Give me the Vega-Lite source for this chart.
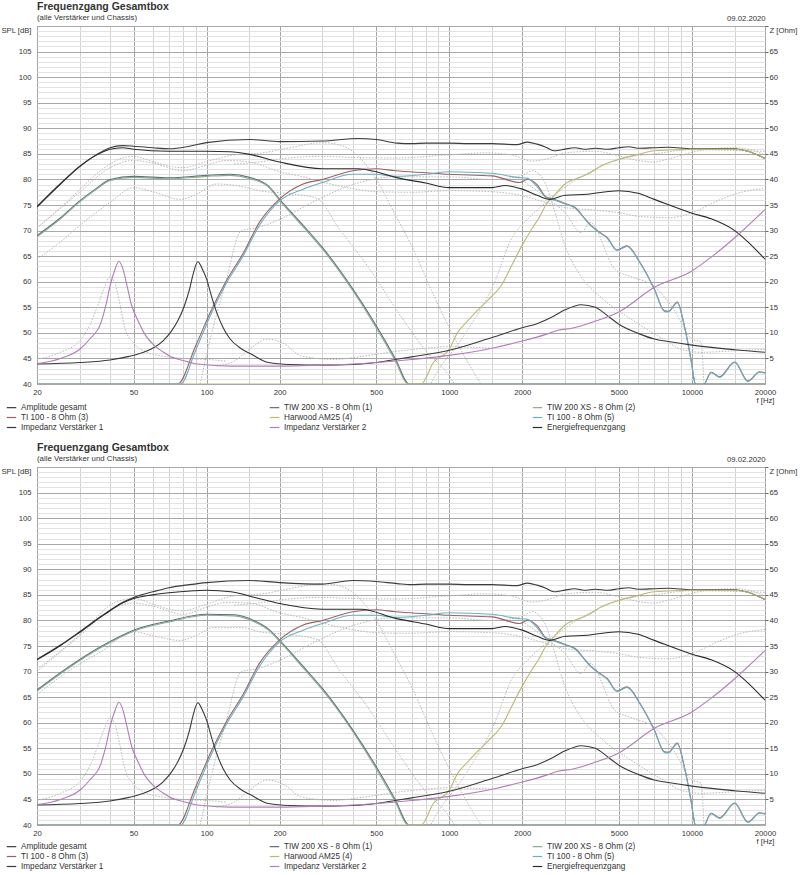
{
"$schema": "https://vega.github.io/schema/vega-lite/v6.json",
"padding": {"left": 0, "top": 1, "right": 0, "bottom": 0},
"spacing": 10,
"config": {
  "font": "Liberation Sans",
  "view": {"stroke": "#9a9a9a"},
  "axis": {"labelFont": "Liberation Sans", "labelFontSize": 7.7, "labelColor": "#333", "titleFont": "Liberation Sans", "titleFontSize": 7.7, "titleFontWeight": "normal", "titleColor": "#333"},
  "legend": {"labelFont": "Liberation Sans"}
},
"datasets": {
"spl": [
{"s":"Amplitude gesamt","p":"A","f":20,"v":74.7},{"s":"Amplitude gesamt","p":"A","f":25,"v":79.2},{"s":"Amplitude gesamt","p":"A","f":30,"v":82.6},{"s":"Amplitude gesamt","p":"A","f":35,"v":84.8},{"s":"Amplitude gesamt","p":"A","f":40,"v":86.2},{"s":"Amplitude gesamt","p":"A","f":45,"v":86.6},{"s":"Amplitude gesamt","p":"A","f":50,"v":86.5},{"s":"Amplitude gesamt","p":"A","f":60,"v":86.2},{"s":"Amplitude gesamt","p":"A","f":70,"v":86.0},{"s":"Amplitude gesamt","p":"A","f":85,"v":86.5},{"s":"Amplitude gesamt","p":"A","f":100,"v":87.2},{"s":"Amplitude gesamt","p":"A","f":150,"v":87.8},{"s":"Amplitude gesamt","p":"A","f":200,"v":87.4},{"s":"Amplitude gesamt","p":"A","f":300,"v":87.5},{"s":"Amplitude gesamt","p":"A","f":420,"v":88.0},{"s":"Amplitude gesamt","p":"A","f":500,"v":87.8},{"s":"Amplitude gesamt","p":"A","f":610,"v":87.1},
{"s":"Amplitude gesamt","p":"B","f":20,"v":72.4},{"s":"Amplitude gesamt","p":"B","f":25,"v":75.2},{"s":"Amplitude gesamt","p":"B","f":30,"v":77.8},{"s":"Amplitude gesamt","p":"B","f":37,"v":80.9},{"s":"Amplitude gesamt","p":"B","f":40,"v":82.0},{"s":"Amplitude gesamt","p":"B","f":45,"v":83.5},{"s":"Amplitude gesamt","p":"B","f":50,"v":84.5},{"s":"Amplitude gesamt","p":"B","f":60,"v":85.6},{"s":"Amplitude gesamt","p":"B","f":70,"v":86.4},{"s":"Amplitude gesamt","p":"B","f":85,"v":87.0},{"s":"Amplitude gesamt","p":"B","f":100,"v":87.4},{"s":"Amplitude gesamt","p":"B","f":150,"v":87.8},{"s":"Amplitude gesamt","p":"B","f":200,"v":87.4},{"s":"Amplitude gesamt","p":"B","f":300,"v":87.1},{"s":"Amplitude gesamt","p":"B","f":400,"v":87.8},{"s":"Amplitude gesamt","p":"B","f":500,"v":87.6},{"s":"Amplitude gesamt","p":"B","f":610,"v":87.2},
{"s":"Amplitude gesamt","p":"S","f":700,"v":87.0},{"s":"Amplitude gesamt","p":"S","f":800,"v":87.1},{"s":"Amplitude gesamt","p":"S","f":1000,"v":87.1},{"s":"Amplitude gesamt","p":"S","f":1200,"v":87.0},{"s":"Amplitude gesamt","p":"S","f":1500,"v":87.0},{"s":"Amplitude gesamt","p":"S","f":1900,"v":86.8},{"s":"Amplitude gesamt","p":"S","f":2100,"v":87.3},{"s":"Amplitude gesamt","p":"S","f":2300,"v":86.9},{"s":"Amplitude gesamt","p":"S","f":2500,"v":86.3},{"s":"Amplitude gesamt","p":"S","f":2700,"v":85.6},{"s":"Amplitude gesamt","p":"S","f":2900,"v":85.8},{"s":"Amplitude gesamt","p":"S","f":3300,"v":86.2},{"s":"Amplitude gesamt","p":"S","f":3600,"v":85.9},{"s":"Amplitude gesamt","p":"S","f":4000,"v":86.1},{"s":"Amplitude gesamt","p":"S","f":4500,"v":85.9},{"s":"Amplitude gesamt","p":"S","f":5000,"v":86.2},{"s":"Amplitude gesamt","p":"S","f":5500,"v":86.4},{"s":"Amplitude gesamt","p":"S","f":6000,"v":86.1},{"s":"Amplitude gesamt","p":"S","f":7000,"v":86.2},{"s":"Amplitude gesamt","p":"S","f":8000,"v":86.3},{"s":"Amplitude gesamt","p":"S","f":10000,"v":86.0},{"s":"Amplitude gesamt","p":"S","f":12000,"v":86.0},{"s":"Amplitude gesamt","p":"S","f":15000,"v":86.0},{"s":"Amplitude gesamt","p":"S","f":17000,"v":85.5},{"s":"Amplitude gesamt","p":"S","f":20000,"v":84.1},

{"s":"TIW 200 XS - 8 Ohm (1)","p":"A","f":20,"v":69.0},{"s":"TIW 200 XS - 8 Ohm (1)","p":"A","f":25,"v":72.5},{"s":"TIW 200 XS - 8 Ohm (1)","p":"A","f":30,"v":75.8},{"s":"TIW 200 XS - 8 Ohm (1)","p":"A","f":35,"v":78.2},{"s":"TIW 200 XS - 8 Ohm (1)","p":"A","f":40,"v":80.0},{"s":"TIW 200 XS - 8 Ohm (1)","p":"A","f":50,"v":80.6},{"s":"TIW 200 XS - 8 Ohm (1)","p":"A","f":70,"v":80.3},{"s":"TIW 200 XS - 8 Ohm (1)","p":"A","f":100,"v":80.8},{"s":"TIW 200 XS - 8 Ohm (1)","p":"A","f":125,"v":81.0},{"s":"TIW 200 XS - 8 Ohm (1)","p":"A","f":150,"v":80.4},{"s":"TIW 200 XS - 8 Ohm (1)","p":"A","f":180,"v":78.7},
{"s":"TIW 200 XS - 8 Ohm (1)","p":"B","f":20,"v":66.4},{"s":"TIW 200 XS - 8 Ohm (1)","p":"B","f":27,"v":70.9},{"s":"TIW 200 XS - 8 Ohm (1)","p":"B","f":37,"v":75.0},{"s":"TIW 200 XS - 8 Ohm (1)","p":"B","f":50,"v":78.1},{"s":"TIW 200 XS - 8 Ohm (1)","p":"B","f":70,"v":79.9},{"s":"TIW 200 XS - 8 Ohm (1)","p":"B","f":100,"v":81.2},{"s":"TIW 200 XS - 8 Ohm (1)","p":"B","f":130,"v":81.1},{"s":"TIW 200 XS - 8 Ohm (1)","p":"B","f":158,"v":79.9},{"s":"TIW 200 XS - 8 Ohm (1)","p":"B","f":180,"v":78.3},
{"s":"TIW 200 XS - 8 Ohm (1)","p":"S","f":200,"v":76.1},{"s":"TIW 200 XS - 8 Ohm (1)","p":"S","f":250,"v":71.0},{"s":"TIW 200 XS - 8 Ohm (1)","p":"S","f":300,"v":66.7},{"s":"TIW 200 XS - 8 Ohm (1)","p":"S","f":400,"v":58.6},{"s":"TIW 200 XS - 8 Ohm (1)","p":"S","f":500,"v":51.4},{"s":"TIW 200 XS - 8 Ohm (1)","p":"S","f":600,"v":44.9},{"s":"TIW 200 XS - 8 Ohm (1)","p":"S","f":683,"v":40},{"s":"TIW 200 XS - 8 Ohm (1)","p":"S","f":20000,"v":40},

{"s":"TIW 200 XS - 8 Ohm (2)","p":"A","f":20,"v":68.8},{"s":"TIW 200 XS - 8 Ohm (2)","p":"A","f":25,"v":72.3},{"s":"TIW 200 XS - 8 Ohm (2)","p":"A","f":30,"v":75.6},{"s":"TIW 200 XS - 8 Ohm (2)","p":"A","f":35,"v":78.0},{"s":"TIW 200 XS - 8 Ohm (2)","p":"A","f":40,"v":79.8},{"s":"TIW 200 XS - 8 Ohm (2)","p":"A","f":50,"v":80.4},{"s":"TIW 200 XS - 8 Ohm (2)","p":"A","f":70,"v":80.1},{"s":"TIW 200 XS - 8 Ohm (2)","p":"A","f":100,"v":80.6},{"s":"TIW 200 XS - 8 Ohm (2)","p":"A","f":125,"v":80.8},{"s":"TIW 200 XS - 8 Ohm (2)","p":"A","f":150,"v":80.2},{"s":"TIW 200 XS - 8 Ohm (2)","p":"A","f":180,"v":78.5},
{"s":"TIW 200 XS - 8 Ohm (2)","p":"B","f":20,"v":66.2},{"s":"TIW 200 XS - 8 Ohm (2)","p":"B","f":27,"v":70.7},{"s":"TIW 200 XS - 8 Ohm (2)","p":"B","f":37,"v":74.8},{"s":"TIW 200 XS - 8 Ohm (2)","p":"B","f":50,"v":77.9},{"s":"TIW 200 XS - 8 Ohm (2)","p":"B","f":70,"v":79.7},{"s":"TIW 200 XS - 8 Ohm (2)","p":"B","f":100,"v":81.0},{"s":"TIW 200 XS - 8 Ohm (2)","p":"B","f":130,"v":80.9},{"s":"TIW 200 XS - 8 Ohm (2)","p":"B","f":158,"v":79.7},{"s":"TIW 200 XS - 8 Ohm (2)","p":"B","f":180,"v":78.1},
{"s":"TIW 200 XS - 8 Ohm (2)","p":"S","f":200,"v":75.9},{"s":"TIW 200 XS - 8 Ohm (2)","p":"S","f":250,"v":70.7},{"s":"TIW 200 XS - 8 Ohm (2)","p":"S","f":300,"v":66.4},{"s":"TIW 200 XS - 8 Ohm (2)","p":"S","f":400,"v":58.3},{"s":"TIW 200 XS - 8 Ohm (2)","p":"S","f":500,"v":51.0},{"s":"TIW 200 XS - 8 Ohm (2)","p":"S","f":600,"v":44.5},{"s":"TIW 200 XS - 8 Ohm (2)","p":"S","f":676,"v":40},{"s":"TIW 200 XS - 8 Ohm (2)","p":"S","f":20000,"v":40},

{"s":"TI 100 - 8 Ohm (3)","p":"S","f":20,"v":40},{"s":"TI 100 - 8 Ohm (3)","p":"S","f":76,"v":40},{"s":"TI 100 - 8 Ohm (3)","p":"S","f":90,"v":47.4},{"s":"TI 100 - 8 Ohm (3)","p":"S","f":105,"v":54.6},{"s":"TI 100 - 8 Ohm (3)","p":"S","f":120,"v":60.0},{"s":"TI 100 - 8 Ohm (3)","p":"S","f":142,"v":65.7},{"s":"TI 100 - 8 Ohm (3)","p":"S","f":165,"v":71.6},{"s":"TI 100 - 8 Ohm (3)","p":"S","f":200,"v":76.2},{"s":"TI 100 - 8 Ohm (3)","p":"S","f":250,"v":79.1},{"s":"TI 100 - 8 Ohm (3)","p":"S","f":300,"v":80.0},{"s":"TI 100 - 8 Ohm (3)","p":"S","f":400,"v":81.7},{"s":"TI 100 - 8 Ohm (3)","p":"S","f":500,"v":82.1},{"s":"TI 100 - 8 Ohm (3)","p":"S","f":600,"v":81.7},{"s":"TI 100 - 8 Ohm (3)","p":"S","f":800,"v":81.3},{"s":"TI 100 - 8 Ohm (3)","p":"S","f":1000,"v":81.0},{"s":"TI 100 - 8 Ohm (3)","p":"S","f":1500,"v":80.7},{"s":"TI 100 - 8 Ohm (3)","p":"S","f":1950,"v":79.4},{"s":"TI 100 - 8 Ohm (3)","p":"S","f":2100,"v":80.0},{"s":"TI 100 - 8 Ohm (3)","p":"S","f":2300,"v":79.0},{"s":"TI 100 - 8 Ohm (3)","p":"S","f":2500,"v":76.6},{"s":"TI 100 - 8 Ohm (3)","p":"S","f":2700,"v":76.1},{"s":"TI 100 - 8 Ohm (3)","p":"S","f":3000,"v":75.3},{"s":"TI 100 - 8 Ohm (3)","p":"S","f":3300,"v":74.5},{"s":"TI 100 - 8 Ohm (3)","p":"S","f":3600,"v":72.5},{"s":"TI 100 - 8 Ohm (3)","p":"S","f":3800,"v":71.2},{"s":"TI 100 - 8 Ohm (3)","p":"S","f":4100,"v":69.9},{"s":"TI 100 - 8 Ohm (3)","p":"S","f":4500,"v":68.5},{"s":"TI 100 - 8 Ohm (3)","p":"S","f":4900,"v":66.2},{"s":"TI 100 - 8 Ohm (3)","p":"S","f":5400,"v":67.0},{"s":"TI 100 - 8 Ohm (3)","p":"S","f":6100,"v":63.8},{"s":"TI 100 - 8 Ohm (3)","p":"S","f":7000,"v":58.6},{"s":"TI 100 - 8 Ohm (3)","p":"S","f":7700,"v":54.3},{"s":"TI 100 - 8 Ohm (3)","p":"S","f":8000,"v":54.2},{"s":"TI 100 - 8 Ohm (3)","p":"S","f":8700,"v":56.0},{"s":"TI 100 - 8 Ohm (3)","p":"S","f":9300,"v":51.4},{"s":"TI 100 - 8 Ohm (3)","p":"S","f":9900,"v":44.9},{"s":"TI 100 - 8 Ohm (3)","p":"S","f":10300,"v":40},{"s":"TI 100 - 8 Ohm (3)","p":"S","f":10800,"v":38.3},{"s":"TI 100 - 8 Ohm (3)","p":"S","f":11300,"v":40},{"s":"TI 100 - 8 Ohm (3)","p":"S","f":12000,"v":42.3},{"s":"TI 100 - 8 Ohm (3)","p":"S","f":13000,"v":41.4},{"s":"TI 100 - 8 Ohm (3)","p":"S","f":15000,"v":44.3},{"s":"TI 100 - 8 Ohm (3)","p":"S","f":17000,"v":40.6},{"s":"TI 100 - 8 Ohm (3)","p":"S","f":19000,"v":42.4},{"s":"TI 100 - 8 Ohm (3)","p":"S","f":20000,"v":42.2},

{"s":"Harwood AM25 (4)","p":"S","f":20,"v":40},{"s":"Harwood AM25 (4)","p":"S","f":766,"v":40},{"s":"Harwood AM25 (4)","p":"S","f":860,"v":44.2},{"s":"Harwood AM25 (4)","p":"S","f":1000,"v":46.8},{"s":"Harwood AM25 (4)","p":"S","f":1080,"v":50.0},{"s":"Harwood AM25 (4)","p":"S","f":1200,"v":52.5},{"s":"Harwood AM25 (4)","p":"S","f":1300,"v":54.3},{"s":"Harwood AM25 (4)","p":"S","f":1450,"v":56.5},{"s":"Harwood AM25 (4)","p":"S","f":1650,"v":59.5},{"s":"Harwood AM25 (4)","p":"S","f":1800,"v":63.0},{"s":"Harwood AM25 (4)","p":"S","f":2000,"v":67.2},{"s":"Harwood AM25 (4)","p":"S","f":2200,"v":70.5},{"s":"Harwood AM25 (4)","p":"S","f":2350,"v":72.6},{"s":"Harwood AM25 (4)","p":"S","f":2500,"v":75.0},{"s":"Harwood AM25 (4)","p":"S","f":2700,"v":76.8},{"s":"Harwood AM25 (4)","p":"S","f":3000,"v":79.1},{"s":"Harwood AM25 (4)","p":"S","f":3500,"v":80.5},{"s":"Harwood AM25 (4)","p":"S","f":3700,"v":81.0},{"s":"Harwood AM25 (4)","p":"S","f":4300,"v":82.8},{"s":"Harwood AM25 (4)","p":"S","f":5000,"v":83.9},{"s":"Harwood AM25 (4)","p":"S","f":6000,"v":84.9},{"s":"Harwood AM25 (4)","p":"S","f":7000,"v":85.6},{"s":"Harwood AM25 (4)","p":"S","f":10000,"v":85.9},{"s":"Harwood AM25 (4)","p":"S","f":15000,"v":85.9},{"s":"Harwood AM25 (4)","p":"S","f":17000,"v":85.5},{"s":"Harwood AM25 (4)","p":"S","f":20000,"v":84.1},

{"s":"TI 100 - 8 Ohm (5)","p":"S","f":20,"v":40},{"s":"TI 100 - 8 Ohm (5)","p":"S","f":78,"v":40},{"s":"TI 100 - 8 Ohm (5)","p":"S","f":90,"v":46.5},{"s":"TI 100 - 8 Ohm (5)","p":"S","f":105,"v":54.0},{"s":"TI 100 - 8 Ohm (5)","p":"S","f":120,"v":59.5},{"s":"TI 100 - 8 Ohm (5)","p":"S","f":142,"v":65.2},{"s":"TI 100 - 8 Ohm (5)","p":"S","f":165,"v":71.0},{"s":"TI 100 - 8 Ohm (5)","p":"S","f":200,"v":75.8},{"s":"TI 100 - 8 Ohm (5)","p":"S","f":250,"v":78.1},{"s":"TI 100 - 8 Ohm (5)","p":"S","f":300,"v":79.4},{"s":"TI 100 - 8 Ohm (5)","p":"S","f":400,"v":81.0},{"s":"TI 100 - 8 Ohm (5)","p":"S","f":500,"v":81.0},{"s":"TI 100 - 8 Ohm (5)","p":"S","f":600,"v":80.6},{"s":"TI 100 - 8 Ohm (5)","p":"S","f":800,"v":81.0},{"s":"TI 100 - 8 Ohm (5)","p":"S","f":1000,"v":81.5},{"s":"TI 100 - 8 Ohm (5)","p":"S","f":1500,"v":81.2},{"s":"TI 100 - 8 Ohm (5)","p":"S","f":1900,"v":80.4},{"s":"TI 100 - 8 Ohm (5)","p":"S","f":2100,"v":80.2},{"s":"TI 100 - 8 Ohm (5)","p":"S","f":2300,"v":78.6},{"s":"TI 100 - 8 Ohm (5)","p":"S","f":2500,"v":76.5},{"s":"TI 100 - 8 Ohm (5)","p":"S","f":2700,"v":76.0},{"s":"TI 100 - 8 Ohm (5)","p":"S","f":3000,"v":75.2},{"s":"TI 100 - 8 Ohm (5)","p":"S","f":3300,"v":74.4},{"s":"TI 100 - 8 Ohm (5)","p":"S","f":3600,"v":72.4},{"s":"TI 100 - 8 Ohm (5)","p":"S","f":3800,"v":71.1},{"s":"TI 100 - 8 Ohm (5)","p":"S","f":4100,"v":69.8},{"s":"TI 100 - 8 Ohm (5)","p":"S","f":4500,"v":68.4},{"s":"TI 100 - 8 Ohm (5)","p":"S","f":4900,"v":66.1},{"s":"TI 100 - 8 Ohm (5)","p":"S","f":5400,"v":66.9},{"s":"TI 100 - 8 Ohm (5)","p":"S","f":6100,"v":63.7},{"s":"TI 100 - 8 Ohm (5)","p":"S","f":7000,"v":58.5},{"s":"TI 100 - 8 Ohm (5)","p":"S","f":7700,"v":54.2},{"s":"TI 100 - 8 Ohm (5)","p":"S","f":8000,"v":54.1},{"s":"TI 100 - 8 Ohm (5)","p":"S","f":8700,"v":55.9},{"s":"TI 100 - 8 Ohm (5)","p":"S","f":9300,"v":51.3},{"s":"TI 100 - 8 Ohm (5)","p":"S","f":9900,"v":44.8},{"s":"TI 100 - 8 Ohm (5)","p":"S","f":10300,"v":40},{"s":"TI 100 - 8 Ohm (5)","p":"S","f":10800,"v":38.2},{"s":"TI 100 - 8 Ohm (5)","p":"S","f":11300,"v":40},{"s":"TI 100 - 8 Ohm (5)","p":"S","f":12000,"v":42.2},{"s":"TI 100 - 8 Ohm (5)","p":"S","f":13000,"v":41.3},{"s":"TI 100 - 8 Ohm (5)","p":"S","f":15000,"v":44.2},{"s":"TI 100 - 8 Ohm (5)","p":"S","f":17000,"v":40.5},{"s":"TI 100 - 8 Ohm (5)","p":"S","f":19000,"v":42.3},{"s":"TI 100 - 8 Ohm (5)","p":"S","f":20000,"v":42.1},

{"s":"Energiefrequenzgang","p":"A","f":20,"v":74.6},{"s":"Energiefrequenzgang","p":"A","f":25,"v":79.1},{"s":"Energiefrequenzgang","p":"A","f":30,"v":82.5},{"s":"Energiefrequenzgang","p":"A","f":35,"v":84.7},{"s":"Energiefrequenzgang","p":"A","f":40,"v":85.9},{"s":"Energiefrequenzgang","p":"A","f":45,"v":86.2},{"s":"Energiefrequenzgang","p":"A","f":50,"v":85.9},{"s":"Energiefrequenzgang","p":"A","f":70,"v":85.5},{"s":"Energiefrequenzgang","p":"A","f":100,"v":85.5},{"s":"Energiefrequenzgang","p":"A","f":125,"v":85.4},{"s":"Energiefrequenzgang","p":"A","f":150,"v":84.9},{"s":"Energiefrequenzgang","p":"A","f":200,"v":83.4},{"s":"Energiefrequenzgang","p":"A","f":300,"v":82.1},{"s":"Energiefrequenzgang","p":"A","f":420,"v":82.1},{"s":"Energiefrequenzgang","p":"A","f":500,"v":81.5},{"s":"Energiefrequenzgang","p":"A","f":600,"v":80.4},
{"s":"Energiefrequenzgang","p":"B","f":20,"v":72.3},{"s":"Energiefrequenzgang","p":"B","f":25,"v":75.1},{"s":"Energiefrequenzgang","p":"B","f":30,"v":77.7},{"s":"Energiefrequenzgang","p":"B","f":37,"v":80.8},{"s":"Energiefrequenzgang","p":"B","f":40,"v":81.9},{"s":"Energiefrequenzgang","p":"B","f":45,"v":83.4},{"s":"Energiefrequenzgang","p":"B","f":50,"v":84.3},{"s":"Energiefrequenzgang","p":"B","f":60,"v":85.0},{"s":"Energiefrequenzgang","p":"B","f":70,"v":85.4},{"s":"Energiefrequenzgang","p":"B","f":100,"v":85.9},{"s":"Energiefrequenzgang","p":"B","f":126,"v":85.6},{"s":"Energiefrequenzgang","p":"B","f":158,"v":84.5},{"s":"Energiefrequenzgang","p":"B","f":200,"v":83.3},{"s":"Energiefrequenzgang","p":"B","f":300,"v":82.2},{"s":"Energiefrequenzgang","p":"B","f":433,"v":82.2},{"s":"Energiefrequenzgang","p":"B","f":600,"v":80.4},
{"s":"Energiefrequenzgang","p":"S","f":800,"v":79.3},{"s":"Energiefrequenzgang","p":"S","f":1000,"v":78.4},{"s":"Energiefrequenzgang","p":"S","f":1500,"v":78.4},{"s":"Energiefrequenzgang","p":"S","f":1700,"v":78.8},{"s":"Energiefrequenzgang","p":"S","f":2000,"v":78.1},{"s":"Energiefrequenzgang","p":"S","f":2300,"v":76.9},{"s":"Energiefrequenzgang","p":"S","f":2600,"v":76.1},{"s":"Energiefrequenzgang","p":"S","f":3000,"v":76.9},{"s":"Energiefrequenzgang","p":"S","f":3700,"v":77.1},{"s":"Energiefrequenzgang","p":"S","f":5000,"v":77.8},{"s":"Energiefrequenzgang","p":"S","f":6000,"v":77.3},{"s":"Energiefrequenzgang","p":"S","f":7000,"v":76.1},{"s":"Energiefrequenzgang","p":"S","f":10000,"v":73.4},{"s":"Energiefrequenzgang","p":"S","f":12000,"v":72.3},{"s":"Energiefrequenzgang","p":"S","f":15000,"v":70.0},{"s":"Energiefrequenzgang","p":"S","f":17000,"v":67.8},{"s":"Energiefrequenzgang","p":"S","f":20000,"v":64.4}
],
"imp": [
{"s":"Impedanz Verstärker 1","f":20,"z":3.9},{"s":"Impedanz Verstärker 1","f":30,"z":4.2},{"s":"Impedanz Verstärker 1","f":40,"z":4.7},{"s":"Impedanz Verstärker 1","f":48,"z":5.4},{"s":"Impedanz Verstärker 1","f":55,"z":6.2},{"s":"Impedanz Verstärker 1","f":61,"z":7.2},{"s":"Impedanz Verstärker 1","f":66,"z":8.4},{"s":"Impedanz Verstärker 1","f":71,"z":10.1},{"s":"Impedanz Verstärker 1","f":76,"z":12.3},{"s":"Impedanz Verstärker 1","f":81,"z":15.3},{"s":"Impedanz Verstärker 1","f":85,"z":18.5},{"s":"Impedanz Verstärker 1","f":88,"z":21.5},{"s":"Impedanz Verstärker 1","f":92,"z":23.9},{"s":"Impedanz Verstärker 1","f":96,"z":22.5},{"s":"Impedanz Verstärker 1","f":100,"z":20.5},{"s":"Impedanz Verstärker 1","f":105,"z":17.0},{"s":"Impedanz Verstärker 1","f":110,"z":14.0},{"s":"Impedanz Verstärker 1","f":117,"z":11.0},{"s":"Impedanz Verstärker 1","f":125,"z":8.8},{"s":"Impedanz Verstärker 1","f":138,"z":7.0},{"s":"Impedanz Verstärker 1","f":152,"z":5.9},{"s":"Impedanz Verstärker 1","f":180,"z":4.2},{"s":"Impedanz Verstärker 1","f":220,"z":3.8},{"s":"Impedanz Verstärker 1","f":300,"z":3.7},{"s":"Impedanz Verstärker 1","f":400,"z":3.8},{"s":"Impedanz Verstärker 1","f":500,"z":4.2},{"s":"Impedanz Verstärker 1","f":600,"z":4.8},{"s":"Impedanz Verstärker 1","f":700,"z":5.3},{"s":"Impedanz Verstärker 1","f":1000,"z":6.6},{"s":"Impedanz Verstärker 1","f":1500,"z":9.1},{"s":"Impedanz Verstärker 1","f":2000,"z":11.0},{"s":"Impedanz Verstärker 1","f":2300,"z":11.8},{"s":"Impedanz Verstärker 1","f":2700,"z":13.3},{"s":"Impedanz Verstärker 1","f":3000,"z":14.5},{"s":"Impedanz Verstärker 1","f":3500,"z":15.5},{"s":"Impedanz Verstärker 1","f":4000,"z":15.0},{"s":"Impedanz Verstärker 1","f":4500,"z":13.3},{"s":"Impedanz Verstärker 1","f":5000,"z":11.7},{"s":"Impedanz Verstärker 1","f":6000,"z":9.9},{"s":"Impedanz Verstärker 1","f":7000,"z":8.8},{"s":"Impedanz Verstärker 1","f":8000,"z":8.3},{"s":"Impedanz Verstärker 1","f":10000,"z":7.6},{"s":"Impedanz Verstärker 1","f":15000,"z":6.7},{"s":"Impedanz Verstärker 1","f":20000,"z":6.2},
{"s":"Impedanz Verstärker 2","f":20,"z":4.0},{"s":"Impedanz Verstärker 2","f":25,"z":5.0},{"s":"Impedanz Verstärker 2","f":30,"z":6.8},{"s":"Impedanz Verstärker 2","f":33,"z":8.8},{"s":"Impedanz Verstärker 2","f":36.7,"z":12.0},{"s":"Impedanz Verstärker 2","f":38.5,"z":15.5},{"s":"Impedanz Verstärker 2","f":40,"z":19.2},{"s":"Impedanz Verstärker 2","f":42,"z":22.5},{"s":"Impedanz Verstärker 2","f":43.5,"z":24.0},{"s":"Impedanz Verstärker 2","f":45,"z":22.8},{"s":"Impedanz Verstärker 2","f":47,"z":19.2},{"s":"Impedanz Verstärker 2","f":49,"z":15.5},{"s":"Impedanz Verstärker 2","f":52,"z":12.5},{"s":"Impedanz Verstärker 2","f":56,"z":9.5},{"s":"Impedanz Verstärker 2","f":61,"z":7.5},{"s":"Impedanz Verstärker 2","f":66,"z":6.3},{"s":"Impedanz Verstärker 2","f":71,"z":5.4},{"s":"Impedanz Verstärker 2","f":80,"z":4.6},{"s":"Impedanz Verstärker 2","f":92,"z":3.9},{"s":"Impedanz Verstärker 2","f":125,"z":3.5},{"s":"Impedanz Verstärker 2","f":200,"z":3.5},{"s":"Impedanz Verstärker 2","f":300,"z":3.7},{"s":"Impedanz Verstärker 2","f":400,"z":3.9},{"s":"Impedanz Verstärker 2","f":500,"z":4.2},{"s":"Impedanz Verstärker 2","f":700,"z":4.8},{"s":"Impedanz Verstärker 2","f":1000,"z":5.6},{"s":"Impedanz Verstärker 2","f":1500,"z":7.0},{"s":"Impedanz Verstärker 2","f":2000,"z":8.4},{"s":"Impedanz Verstärker 2","f":2500,"z":9.7},{"s":"Impedanz Verstärker 2","f":2800,"z":10.5},{"s":"Impedanz Verstärker 2","f":3200,"z":10.9},{"s":"Impedanz Verstärker 2","f":4000,"z":12.3},{"s":"Impedanz Verstärker 2","f":5000,"z":14.1},{"s":"Impedanz Verstärker 2","f":7000,"z":18.9},{"s":"Impedanz Verstärker 2","f":10000,"z":22.1},{"s":"Impedanz Verstärker 2","f":12000,"z":24.8},{"s":"Impedanz Verstärker 2","f":15000,"z":28.6},{"s":"Impedanz Verstärker 2","f":20000,"z":34.1}
],
"dots": [
{"d":"d1","p":"A","f":20,"v":70.5},{"d":"d1","p":"A","f":25,"v":74.5},{"d":"d1","p":"A","f":30,"v":78},{"d":"d1","p":"A","f":35,"v":81},{"d":"d1","p":"A","f":40,"v":83},{"d":"d1","p":"A","f":45,"v":84.2},{"d":"d1","p":"A","f":50,"v":84.5},{"d":"d1","p":"A","f":60,"v":83.5},{"d":"d1","p":"A","f":70,"v":82.6},{"d":"d1","p":"A","f":80,"v":82.3},{"d":"d1","p":"A","f":100,"v":83.5},{"d":"d1","p":"A","f":130,"v":84.8},{"d":"d1","p":"A","f":170,"v":85.2},{"d":"d1","p":"A","f":220,"v":86.2},
{"d":"d1","p":"B","f":20,"v":70.5},{"d":"d1","p":"B","f":25,"v":74},{"d":"d1","p":"B","f":30,"v":77.3},{"d":"d1","p":"B","f":35,"v":80.5},{"d":"d1","p":"B","f":40,"v":83},{"d":"d1","p":"B","f":45,"v":84},{"d":"d1","p":"B","f":50,"v":84.3},{"d":"d1","p":"B","f":60,"v":83.2},{"d":"d1","p":"B","f":70,"v":82.2},{"d":"d1","p":"B","f":80,"v":81.9},{"d":"d1","p":"B","f":100,"v":83.2},{"d":"d1","p":"B","f":130,"v":84.8},{"d":"d1","p":"B","f":170,"v":85.2},{"d":"d1","p":"B","f":220,"v":86.2},
{"d":"d1","p":"S","f":300,"v":87.2},{"d":"d1","p":"S","f":350,"v":86.8},{"d":"d1","p":"S","f":400,"v":85.5},{"d":"d1","p":"S","f":500,"v":80},{"d":"d1","p":"S","f":600,"v":73},{"d":"d1","p":"S","f":700,"v":67},{"d":"d1","p":"S","f":850,"v":58},{"d":"d1","p":"S","f":1000,"v":51},{"d":"d1","p":"S","f":1200,"v":44},{"d":"d1","p":"S","f":1350,"v":40},
{"d":"d2","p":"A","f":20,"v":64.4},{"d":"d2","p":"A","f":25,"v":67.8},{"d":"d2","p":"A","f":30,"v":71},{"d":"d2","p":"A","f":35,"v":73.5},{"d":"d2","p":"A","f":40,"v":75.5},{"d":"d2","p":"A","f":50,"v":78.4},{"d":"d2","p":"A","f":60,"v":77.6},{"d":"d2","p":"A","f":78,"v":76.1},{"d":"d2","p":"A","f":90,"v":77},{"d":"d2","p":"A","f":110,"v":79.1},{"d":"d2","p":"A","f":140,"v":78.6},{"d":"d2","p":"A","f":165,"v":77.8},
{"d":"d2","p":"B","f":20,"v":65.5},{"d":"d2","p":"B","f":25,"v":69},{"d":"d2","p":"B","f":30,"v":71.5},{"d":"d2","p":"B","f":37,"v":74},{"d":"d2","p":"B","f":50,"v":77.8},{"d":"d2","p":"B","f":60,"v":77},{"d":"d2","p":"B","f":78,"v":76.1},{"d":"d2","p":"B","f":90,"v":77},{"d":"d2","p":"B","f":107,"v":78.6},{"d":"d2","p":"B","f":140,"v":78.6},{"d":"d2","p":"B","f":165,"v":77.8},
{"d":"d2","p":"S","f":222,"v":77.2},{"d":"d2","p":"S","f":285,"v":76.3},{"d":"d2","p":"S","f":350,"v":70.5},{"d":"d2","p":"S","f":460,"v":63.1},{"d":"d2","p":"S","f":630,"v":53.3},{"d":"d2","p":"S","f":800,"v":46.5},{"d":"d2","p":"S","f":1000,"v":41.6},{"d":"d2","p":"S","f":1050,"v":40},
{"d":"d3","p":"A","f":20,"v":70.5},{"d":"d3","p":"A","f":30,"v":77.5},{"d":"d3","p":"A","f":40,"v":82.3},{"d":"d3","p":"A","f":50,"v":83.7},{"d":"d3","p":"A","f":60,"v":83.2},{"d":"d3","p":"A","f":80,"v":81.7},{"d":"d3","p":"A","f":100,"v":82.8},{"d":"d3","p":"A","f":120,"v":83.7},{"d":"d3","p":"A","f":150,"v":83.4},
{"d":"d3","p":"B","f":20,"v":70},{"d":"d3","p":"B","f":30,"v":77},{"d":"d3","p":"B","f":40,"v":82},{"d":"d3","p":"B","f":50,"v":83.4},{"d":"d3","p":"B","f":60,"v":82.8},{"d":"d3","p":"B","f":80,"v":81.2},{"d":"d3","p":"B","f":100,"v":82.6},{"d":"d3","p":"B","f":120,"v":83.5},{"d":"d3","p":"B","f":150,"v":83.4},
{"d":"d3","p":"S","f":200,"v":81.5},{"d":"d3","p":"S","f":250,"v":80.5},{"d":"d3","p":"S","f":300,"v":79.5},{"d":"d3","p":"S","f":400,"v":78.2},{"d":"d3","p":"S","f":500,"v":77.6},{"d":"d3","p":"S","f":700,"v":77.5},{"d":"d3","p":"S","f":1000,"v":77.8},{"d":"d3","p":"S","f":1500,"v":77.6},{"d":"d3","p":"S","f":2000,"v":76.8},{"d":"d3","p":"S","f":2500,"v":75.5},{"d":"d3","p":"S","f":3000,"v":74.5},{"d":"d3","p":"S","f":4000,"v":74},{"d":"d3","p":"S","f":5000,"v":73.5},{"d":"d3","p":"S","f":6000,"v":72.8},{"d":"d3","p":"S","f":8000,"v":72.5},{"d":"d3","p":"S","f":10000,"v":73.5},{"d":"d3","p":"S","f":13000,"v":76},{"d":"d3","p":"S","f":16000,"v":77.5},{"d":"d3","p":"S","f":20000,"v":78.2},
{"d":"d4","p":"S","f":130,"v":83},{"d":"d4","p":"S","f":170,"v":83.5},{"d":"d4","p":"S","f":200,"v":84},{"d":"d4","p":"S","f":300,"v":84.5},{"d":"d4","p":"S","f":400,"v":84.3},{"d":"d4","p":"S","f":600,"v":84.2},{"d":"d4","p":"S","f":1000,"v":84.8},{"d":"d4","p":"S","f":1400,"v":85.2},{"d":"d4","p":"S","f":1800,"v":84.8},{"d":"d4","p":"S","f":2200,"v":83.6},{"d":"d4","p":"S","f":2600,"v":84.2},{"d":"d4","p":"S","f":3000,"v":85.2},{"d":"d4","p":"S","f":4000,"v":85.5},{"d":"d4","p":"S","f":5000,"v":84.6},{"d":"d4","p":"S","f":6000,"v":83.7},{"d":"d4","p":"S","f":7000,"v":83.4},{"d":"d4","p":"S","f":8000,"v":84},{"d":"d4","p":"S","f":10000,"v":85.3},{"d":"d4","p":"S","f":12000,"v":86},{"d":"d4","p":"S","f":15000,"v":86.2},{"d":"d4","p":"S","f":18000,"v":85.6},{"d":"d4","p":"S","f":20000,"v":84.8},
{"d":"d5","p":"S","f":94,"v":40},{"d":"d5","p":"S","f":105,"v":50},{"d":"d5","p":"S","f":120,"v":60},{"d":"d5","p":"S","f":139,"v":70},{"d":"d5","p":"S","f":160,"v":70.5},{"d":"d5","p":"S","f":200,"v":72.2},{"d":"d5","p":"S","f":285,"v":76},{"d":"d5","p":"S","f":400,"v":79},{"d":"d5","p":"S","f":600,"v":80.5},{"d":"d5","p":"S","f":1000,"v":80.5},{"d":"d5","p":"S","f":1500,"v":80},{"d":"d5","p":"S","f":2000,"v":80.8},{"d":"d5","p":"S","f":2200,"v":81.7},{"d":"d5","p":"S","f":2500,"v":79},{"d":"d5","p":"S","f":2700,"v":74.2},{"d":"d5","p":"S","f":3000,"v":67},{"d":"d5","p":"S","f":3500,"v":61},{"d":"d5","p":"S","f":4300,"v":56.6},{"d":"d5","p":"S","f":5600,"v":52.7},{"d":"d5","p":"S","f":7600,"v":48.8},{"d":"d5","p":"S","f":9000,"v":46.8},{"d":"d5","p":"S","f":11000,"v":46.2},{"d":"d5","p":"S","f":15000,"v":46.5},{"d":"d5","p":"S","f":20000,"v":46.8},
{"d":"d6","p":"S","f":2000,"v":79.8},{"d":"d6","p":"S","f":2500,"v":76.5},{"d":"d6","p":"S","f":3000,"v":73.5},{"d":"d6","p":"S","f":3500,"v":69.6},{"d":"d6","p":"S","f":3800,"v":71.6},{"d":"d6","p":"S","f":4800,"v":62.5},{"d":"d6","p":"S","f":5600,"v":61},{"d":"d6","p":"S","f":7000,"v":59.1},{"d":"d6","p":"S","f":8400,"v":54.6},{"d":"d6","p":"S","f":10000,"v":48.8},{"d":"d6","p":"S","f":10900,"v":48.2},{"d":"d6","p":"S","f":11200,"v":40},
{"d":"d7","p":"S","f":800,"v":38},{"d":"d7","p":"S","f":860,"v":41},{"d":"d7","p":"S","f":1170,"v":50},{"d":"d7","p":"S","f":1540,"v":60},{"d":"d7","p":"S","f":1800,"v":68.3},{"d":"d7","p":"S","f":2100,"v":72.2},{"d":"d7","p":"S","f":2500,"v":75.5},{"d":"d7","p":"S","f":3000,"v":78.5},{"d":"d7","p":"S","f":4000,"v":82},{"d":"d7","p":"S","f":5000,"v":84},{"d":"d7","p":"S","f":7000,"v":85},{"d":"d7","p":"S","f":10000,"v":85.8},{"d":"d7","p":"S","f":20000,"v":85.5},
{"d":"d8","p":"S","f":20,"v":44.8},{"d":"d8","p":"S","f":25,"v":46.2},{"d":"d8","p":"S","f":30,"v":48.5},{"d":"d8","p":"S","f":33,"v":51.5},{"d":"d8","p":"S","f":36,"v":56},{"d":"d8","p":"S","f":38,"v":59},{"d":"d8","p":"S","f":40,"v":61},{"d":"d8","p":"S","f":42,"v":59.5},{"d":"d8","p":"S","f":44,"v":55.5},{"d":"d8","p":"S","f":46,"v":51},{"d":"d8","p":"S","f":50,"v":48},{"d":"d8","p":"S","f":55,"v":46.5},{"d":"d8","p":"S","f":65,"v":45.5},{"d":"d8","p":"S","f":80,"v":45},{"d":"d8","p":"S","f":100,"v":44.8},{"d":"d8","p":"S","f":120,"v":44.5},
{"d":"d9","p":"S","f":110,"v":43.5},{"d":"d9","p":"S","f":130,"v":44.5},{"d":"d9","p":"S","f":150,"v":46.8},{"d":"d9","p":"S","f":178,"v":48.8},{"d":"d9","p":"S","f":210,"v":47.8},{"d":"d9","p":"S","f":245,"v":45.5},{"d":"d9","p":"S","f":335,"v":44.8},{"d":"d9","p":"S","f":450,"v":45.5},{"d":"d9","p":"S","f":632,"v":46.5},{"d":"d9","p":"S","f":800,"v":47},{"d":"d9","p":"S","f":1000,"v":47.3},{"d":"d9","p":"S","f":1500,"v":47}
]
},
"vconcat": [
{
 "width": 728, "height": 358,
 "title": {"text": "Frequenzgang Gesamtbox", "subtitle": "(alle Verstärker und Chassis)", "anchor": "start", "frame": "group", "font": "Liberation Sans", "fontSize": 10.5, "fontWeight": "bold", "color": "#333", "subtitleFont": "Liberation Sans", "subtitleFontSize": 7.8, "subtitleColor": "#333", "subtitlePadding": 2, "offset": -8},
 "layer": [
  {"data": {"name": "dots"}, "transform": [{"filter": "datum.p != 'B'"}],
   "mark": {"type": "line", "clip": true, "color": "#b9b9b9", "strokeWidth": 1, "strokeDash": [1.5, 1.5], "interpolate": "monotone"},
   "encoding": {
    "x": {"field": "f", "type": "quantitative", "scale": {"type": "log", "domain": [20, 20000], "nice": false},
          "axis": {"orient": "bottom", "values": [30,40,60,70,80,90,150,300,400,600,700,800,900,1500,3000,4000,6000,7000,8000,9000,15000], "grid": true, "gridColor": "#d2d2d2", "labels": false, "ticks": false, "domain": false, "title": null}},
    "y": {"field": "v", "type": "quantitative", "scale": {"domain": [40, 110], "nice": false, "zero": false},
          "axis": {"orient": "left", "values": [41,42,43,44,46,47,48,49,51,52,53,54,56,57,58,59,61,62,63,64,66,67,68,69,71,72,73,74,76,77,78,79,81,82,83,84,86,87,88,89,91,92,93,94,96,97,98,99,101,102,103,104,106,107,108,109], "grid": true, "gridColor": "#e2e2e2", "labels": false, "ticks": false, "domain": false, "title": null}},
    "detail": {"field": "d"}
   }},
  {"data": {"name": "spl"}, "transform": [{"filter": "datum.p != 'B'"}],
   "mark": {"type": "line", "clip": true, "strokeWidth": 1.1, "interpolate": "monotone"},
   "encoding": {
    "x": {"field": "f", "type": "quantitative", "scale": {"type": "log", "domain": [20, 20000], "nice": false},
          "axis": {"orient": "bottom", "values": [20,50,100,200,500,1000,2000,5000,10000,20000], "format": "d", "grid": true, "gridColor": "#a4a4a4", "ticks": false, "domain": false, "labelPadding": 4, "labelFlush": false, "labelOverlap": false, "title": "f [Hz]", "titleAnchor": "end", "titleAlign": "center", "titlePadding": 1}},
    "y": {"field": "v", "type": "quantitative", "scale": {"domain": [40, 110], "nice": false, "zero": false},
          "axis": {"orient": "left", "values": [40,45,50,55,60,65,70,75,80,85,90,95,100,105,110], "grid": true, "gridColor": "#a8a8a8", "ticks": false, "domain": false, "labelPadding": 6, "labelExpr": "datum.value == 110 ? 'SPL [dB]' : datum.label", "labelBaseline": {"condition": {"test": "datum.value == 110", "value": "top"}, "value": "middle"}, "title": null}},
    "color": {"field": "s", "type": "nominal",
      "scale": {"domain": ["Amplitude gesamt","TIW 200 XS - 8 Ohm (1)","TIW 200 XS - 8 Ohm (2)","TI 100 - 8 Ohm (3)","Harwood AM25 (4)","TI 100 - 8 Ohm (5)","Impedanz Verstärker 1","Impedanz Verstärker 2","Energiefrequenzgang"],
                "range": ["#3c3c3c","#5b6c7e","#8aab8a","#9b6262","#bdb870","#6cb0c2","#3a3a3a","#b27db9","#2b2b2b"]},
      "legend": {"orient": "none", "legendX": -31, "legendY": 376, "direction": "horizontal", "columns": 3, "title": null, "symbolType": "stroke", "symbolSize": 90, "symbolStrokeWidth": 1.2, "labelFontSize": 8.2, "labelColor": "#333", "gridAlign": "all", "columnPadding": 157, "rowPadding": 1, "labelOffset": 4}}
   }},
  {"data": {"name": "imp"},
   "mark": {"type": "line", "clip": true, "strokeWidth": 1.1, "interpolate": "monotone"},
   "encoding": {
    "x": {"field": "f", "type": "quantitative", "scale": {"type": "log", "domain": [20, 20000], "nice": false},
          "axis": {"orient": "top", "labels": false, "ticks": false, "domain": false, "grid": false, "title": "09.02.2020", "titleAnchor": "end", "titleAlign": "right", "titlePadding": 4}},
    "y": {"field": "z", "type": "quantitative", "scale": {"domain": [0, 70], "nice": false, "zero": false},
          "axis": {"orient": "right", "values": [5,10,15,20,25,30,35,40,45,50,55,60,65,70], "grid": false, "ticks": true, "tickSize": 3, "tickColor": "#666", "domain": false, "labelPadding": 1, "labelExpr": "datum.value == 70 ? 'Z [Ohm]' : datum.label", "labelBaseline": {"condition": {"test": "datum.value == 70", "value": "top"}, "value": "middle"}, "title": null}},
    "color": {"field": "s", "type": "nominal"}
   }}
 ],
 "resolve": {"scale": {"y": "independent"}, "axis": {"x": "independent", "y": "independent"}}
},
{
 "width": 728, "height": 358,
 "title": {"text": "Frequenzgang Gesamtbox", "subtitle": "(alle Verstärker und Chassis)", "anchor": "start", "frame": "group", "font": "Liberation Sans", "fontSize": 10.5, "fontWeight": "bold", "color": "#333", "subtitleFont": "Liberation Sans", "subtitleFontSize": 7.8, "subtitleColor": "#333", "subtitlePadding": 2, "offset": -8},
 "layer": [
  {"data": {"name": "dots"}, "transform": [{"filter": "datum.p != 'A'"}],
   "mark": {"type": "line", "clip": true, "color": "#b9b9b9", "strokeWidth": 1, "strokeDash": [1.5, 1.5], "interpolate": "monotone"},
   "encoding": {
    "x": {"field": "f", "type": "quantitative", "scale": {"type": "log", "domain": [20, 20000], "nice": false},
          "axis": {"orient": "bottom", "values": [30,40,60,70,80,90,150,300,400,600,700,800,900,1500,3000,4000,6000,7000,8000,9000,15000], "grid": true, "gridColor": "#d2d2d2", "labels": false, "ticks": false, "domain": false, "title": null}},
    "y": {"field": "v", "type": "quantitative", "scale": {"domain": [40, 110], "nice": false, "zero": false},
          "axis": {"orient": "left", "values": [41,42,43,44,46,47,48,49,51,52,53,54,56,57,58,59,61,62,63,64,66,67,68,69,71,72,73,74,76,77,78,79,81,82,83,84,86,87,88,89,91,92,93,94,96,97,98,99,101,102,103,104,106,107,108,109], "grid": true, "gridColor": "#e2e2e2", "labels": false, "ticks": false, "domain": false, "title": null}},
    "detail": {"field": "d"}
   }},
  {"data": {"name": "spl"}, "transform": [{"filter": "datum.p != 'A'"}],
   "mark": {"type": "line", "clip": true, "strokeWidth": 1.1, "interpolate": "monotone"},
   "encoding": {
    "x": {"field": "f", "type": "quantitative", "scale": {"type": "log", "domain": [20, 20000], "nice": false},
          "axis": {"orient": "bottom", "values": [20,50,100,200,500,1000,2000,5000,10000,20000], "format": "d", "grid": true, "gridColor": "#a4a4a4", "ticks": false, "domain": false, "labelPadding": 4, "labelFlush": false, "labelOverlap": false, "title": "f [Hz]", "titleAnchor": "end", "titleAlign": "center", "titlePadding": 1}},
    "y": {"field": "v", "type": "quantitative", "scale": {"domain": [40, 110], "nice": false, "zero": false},
          "axis": {"orient": "left", "values": [40,45,50,55,60,65,70,75,80,85,90,95,100,105,110], "grid": true, "gridColor": "#a8a8a8", "ticks": false, "domain": false, "labelPadding": 6, "labelExpr": "datum.value == 110 ? 'SPL [dB]' : datum.label", "labelBaseline": {"condition": {"test": "datum.value == 110", "value": "top"}, "value": "middle"}, "title": null}},
    "color": {"field": "s", "type": "nominal",
      "scale": {"domain": ["Amplitude gesamt","TIW 200 XS - 8 Ohm (1)","TIW 200 XS - 8 Ohm (2)","TI 100 - 8 Ohm (3)","Harwood AM25 (4)","TI 100 - 8 Ohm (5)","Impedanz Verstärker 1","Impedanz Verstärker 2","Energiefrequenzgang"],
                "range": ["#3c3c3c","#5b6c7e","#8aab8a","#9b6262","#bdb870","#6cb0c2","#3a3a3a","#b27db9","#2b2b2b"]},
      "legend": {"orient": "none", "legendX": -31, "legendY": 374, "direction": "horizontal", "columns": 3, "title": null, "symbolType": "stroke", "symbolSize": 90, "symbolStrokeWidth": 1.2, "labelFontSize": 8.2, "labelColor": "#333", "gridAlign": "all", "columnPadding": 157, "rowPadding": 1, "labelOffset": 4}}
   }},
  {"data": {"name": "imp"},
   "mark": {"type": "line", "clip": true, "strokeWidth": 1.1, "interpolate": "monotone"},
   "encoding": {
    "x": {"field": "f", "type": "quantitative", "scale": {"type": "log", "domain": [20, 20000], "nice": false},
          "axis": {"orient": "top", "labels": false, "ticks": false, "domain": false, "grid": false, "title": "09.02.2020", "titleAnchor": "end", "titleAlign": "right", "titlePadding": 4}},
    "y": {"field": "z", "type": "quantitative", "scale": {"domain": [0, 70], "nice": false, "zero": false},
          "axis": {"orient": "right", "values": [5,10,15,20,25,30,35,40,45,50,55,60,65,70], "grid": false, "ticks": true, "tickSize": 3, "tickColor": "#666", "domain": false, "labelPadding": 1, "labelExpr": "datum.value == 70 ? 'Z [Ohm]' : datum.label", "labelBaseline": {"condition": {"test": "datum.value == 70", "value": "top"}, "value": "middle"}, "title": null}},
    "color": {"field": "s", "type": "nominal"}
   }}
 ],
 "resolve": {"scale": {"y": "independent"}, "axis": {"x": "independent", "y": "independent"}}
}
],
"resolve": {"scale": {"color": "independent"}, "legend": {"color": "independent"}}
}
